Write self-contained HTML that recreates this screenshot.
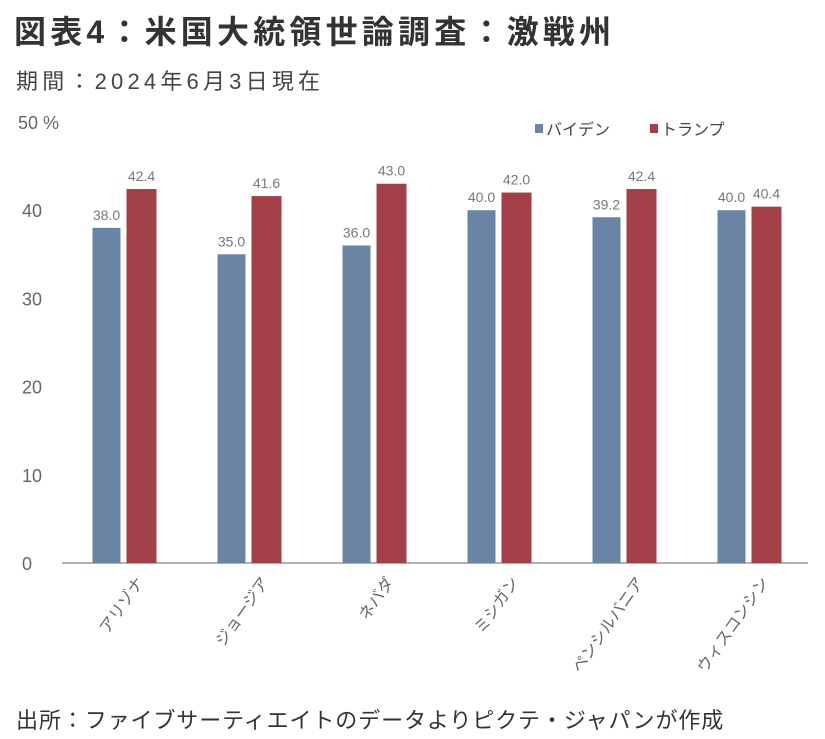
<!DOCTYPE html>
<html><head><meta charset="utf-8"><style>
body{margin:0;background:#fff;width:825px;height:739px;overflow:hidden;font-family:"Liberation Sans","Noto Sans CJK JP",sans-serif}
#title{position:absolute;left:14px;top:7px;font-size:32px;font-weight:bold;color:#333;letter-spacing:4.2px}
#sub{position:absolute;left:16px;top:64px;font-size:22px;color:#444;letter-spacing:4.2px}
#foot{position:absolute;left:16px;top:703px;font-size:22px;color:#333;letter-spacing:0.9px}
svg{position:absolute;left:0;top:0}
</style></head><body>
<div id="title">図表4：米国大統領世論調査：激戦州</div>
<div id="sub">期間：2024年6月3日現在</div>
<div id="foot">出所：ファイブサーティエイトのデータよりピクテ・ジャパンが作成</div>
<svg id="c" width="825" height="739"></svg>
<script>
const categories=["アリゾナ","ジョージア","ネバダ","ミシガン","ペンシルバニア","ウィスコンシン"];
const biden=[38.0,35.0,36.0,40.0,39.2,40.0];
const trump=[42.4,41.6,43.0,42.0,42.4,40.4];
const yTicks=[0,10,20,30,40,50];
const seriesNames=["バイデン","トランプ"];
const colors=["#6a84a6","#a23f47"];
const NS="http://www.w3.org/2000/svg";
const svg=document.getElementById('c');
const y0=563,pxPer=8.82,xL=62,band=125;
const y=v=>y0-v*pxPer;
const xc=i=>xL+band*(i+0.5);
function mk(t,a,txt){const e=document.createElementNS(NS,t);for(const k in a)e.setAttribute(k,a[k]);if(txt!=null)e.textContent=txt;svg.appendChild(e);return e;}
yTicks.forEach(t=>{
 const e=mk('text',{x:t==50?18:22,y:y(t)+7,'font-size':18,fill:'#666','font-family':'Liberation Sans,sans-serif'},t==50?'50 %':String(t));
 
 
});
const ax=mk('line',{x1:xL,x2:808,y1:y0,y2:y0,stroke:'#999','stroke-width':1.5});


categories.forEach((c,i)=>{
 const cx=xc(i);
 [[biden[i],cx-32,28,0],[trump[i],cx+2,30,1]].forEach(([v,x,w,s])=>{
  const r=mk('rect',{x:x,y:y(v),width:w,height:y0-y(v),fill:colors[s]});
  
  
  const t=mk('text',{x:x+w/2,y:y(v)-8,'text-anchor':'middle','font-size':14,fill:'#777'},v.toFixed(1));
  
  
 });
 const lx=cx+20,ly=582;
 const l=mk('text',{x:lx,y:ly,'text-anchor':'end','font-size':16,fill:'#666',transform:`rotate(-55 ${lx} ${ly})`},c);
 
 
});
seriesNames.forEach((n,s)=>{
 const x=535+s*115;
 const r=mk('rect',{x:x,y:124,width:8,height:9,fill:colors[s]});
 
 
 const t=mk('text',{x:x+11,y:135,'font-size':16,fill:'#444'},n);
 
 
});
</script>
</body></html>
